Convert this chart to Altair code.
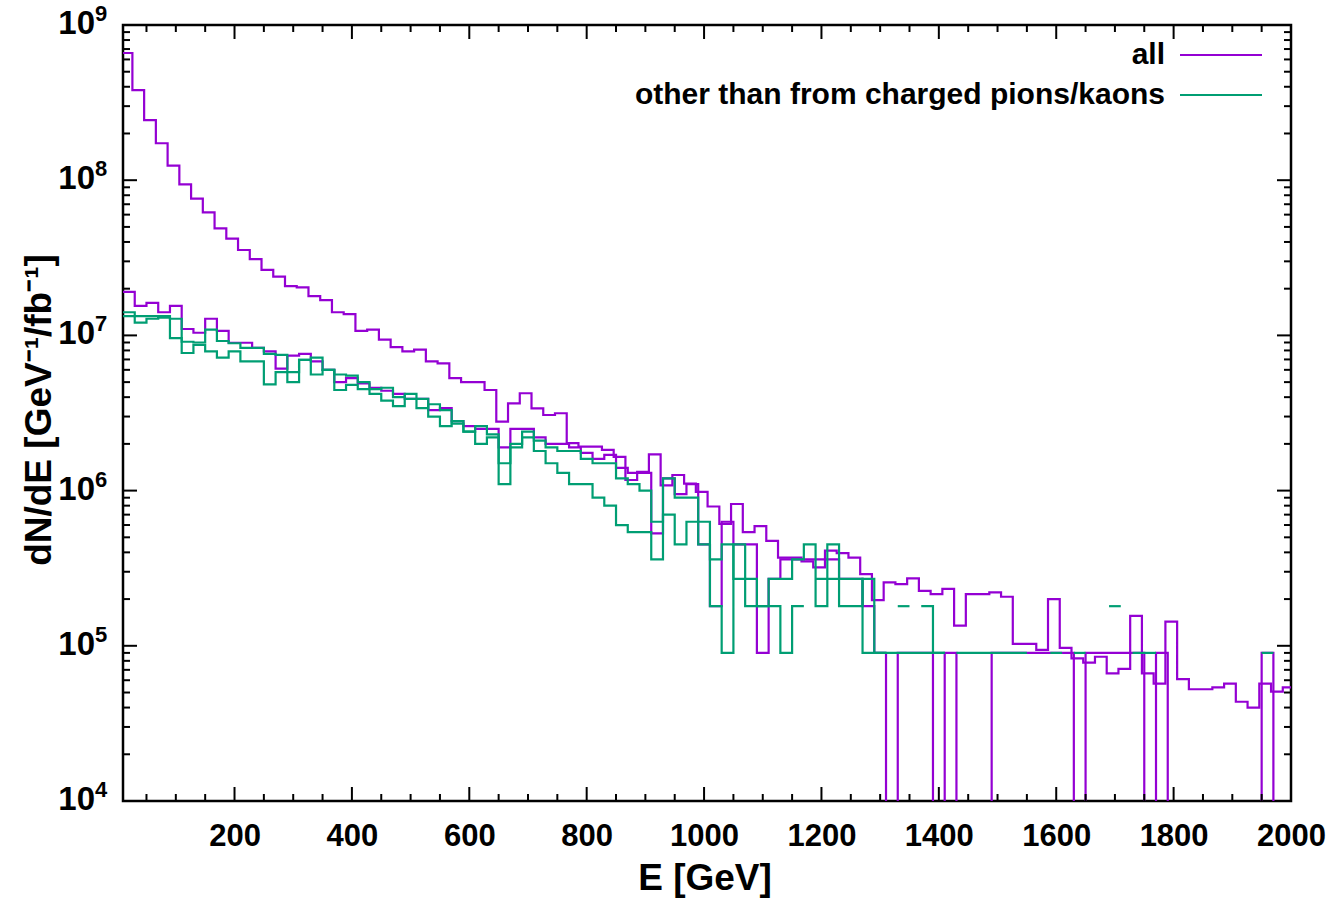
import altair as alt
import pandas as pd

# ---------------- data (dN/dE per 20 GeV bin) ----------------
BIN_WIDTH = 20          # bin width [GeV]
START_ALL = 6           # first bin edge of the high "all" curve [GeV]
START_OTHERS = 10       # first bin edge of the other three curves [GeV]

all_hi = [6.6e8, 3.8e8, 2.44e8, 1.73e8, 1.24e8, 9.4e7, 7.6e7, 6.2e7, 4.9e7, 4.2e7,
          3.55e7, 3.1e7, 2.64e7, 2.39e7, 2.08e7, 2.04e7, 1.79e7, 1.69e7, 1.41e7, 1.37e7,
          1.07e7, 1.09e7, 9.4e6, 8.4e6, 7.9e6, 8.1e6, 6.8e6, 6.6e6, 5.3e6, 5.0e6,
          5.0e6, 4.45e6, 2.78e6, 3.65e6, 4.24e6, 3.39e6, 3.07e6, 3.15e6, 2.02e6, 1.92e6,
          1.92e6, 1.83e6, 1.65e6, 1.17e6, 1.32e6, 1.71e6, 1.08e6, 1.26e6, 1.11e6, 9.8e5,
          7.9e5, 6.1e5, 8.2e5, 5.4e5, 5.9e5, 4.75e5, 3.7e5, 3.7e5, 3.5e5, 3.2e5,
          4.1e5, 3.95e5, 3.7e5, 2.9e5, 1.97e5, 2.56e5, 2.5e5, 2.72e5, 2.26e5, 2.15e5,
          2.33e5, 1.35e5, 2.15e5, 2.15e5, 2.21e5, 2.07e5, 1.03e5, 1.03e5, 9.4e4, 2.0e5,
          9.7e4, 8.3e4, 7.8e4, 8.5e4, 6.65e4, 7.1e4, 1.56e5, 6.65e4, 5.7e4, 1.43e5,
          6.1e4, 5.25e4, 5.25e4, 5.4e4, 5.7e4, 4.36e4, 4.0e4, 5.7e4, 5.06e4, 5.4e4]

all_lo = [1.91e7, 1.55e7, 1.62e7, 1.41e7, 1.55e7, 1.1e7, 1.04e7, 1.28e7, 1.07e7, 8.97e6,
          8.97e6, 8.3e6, 7.9e6, 6.1e6, 7.4e6, 7.6e6, 6.8e6, 6.0e6, 5.0e6, 5.3e6,
          4.9e6, 4.6e6, 4.4e6, 4.2e6, 3.9e6, 3.9e6, 3.3e6, 3.4e6, 2.8e6, 2.6e6,
          2.5e6, 2.5e6, 1.9e6, 2.5e6, 2.5e6, 2.2e6, 2.0e6, 2.0e6, 1.9e6, 1.75e6,
          1.6e6, 1.7e6, 1.4e6, 1.3e6, 1.3e6, 5.3e5, 1.2e6, 9.5e5, 1.1e6, 4.5e5,
          1.8e5, 6.3e5, 4.5e5, 4.5e5, 9e4, 2.7e5, 3.6e5, 3.6e5, 3.6e5, 3.6e5,
          3.6e5, 2.7e5, 2.7e5, 1.8e5, 9e4, 0, 9e4, 9e4, 9e4, 0,
          9e4, 0, 0, 0, 9e4, 9e4, 9e4, 9e4, 9e4, 9e4,
          9e4, 0, 9e4, 9e4, 9e4, 9e4, 9e4, 0, 9e4, 0,
          0, 0, 0, 0, 0, 0, 0, 9e4, 0, 0]

other_a = [1.41e7, 1.33e7, 1.33e7, 1.3e7, 1.28e7, 9.1e6, 9.0e6, 1.09e7, 9.2e6, 8.9e6,
           8.3e6, 8.3e6, 7.6e6, 7.5e6, 5.8e6, 6.95e6, 7.2e6, 6.0e6, 5.6e6, 5.5e6,
           5.0e6, 4.5e6, 4.6e6, 4.0e6, 4.2e6, 3.4e6, 3.6e6, 3.3e6, 2.7e6, 2.4e6,
           2.6e6, 2.3e6, 1.1e6, 2.0e6, 2.4e6, 2.1e6, 1.9e6, 1.8e6, 1.8e6, 1.6e6,
           1.5e6, 1.5e6, 1.2e6, 1.1e6, 1.0e6, 6.3e5, 1.2e6, 9.0e5, 9.0e5, 6.3e5,
           3.6e5, 4.5e5, 2.7e5, 1.8e5, 1.8e5, 2.7e5, 2.7e5, 3.6e5, 4.5e5, 1.8e5,
           4.5e5, 1.8e5, 1.8e5, 2.7e5, 9e4, 9e4, 9e4, 9e4, 9e4, 9e4,
           0, 9e4, 9e4, 9e4, 9e4, 9e4, 9e4, 0, 0, 9e4,
           0, 9e4, 0, 0, 1.8e5, 0, 9e4, 9e4, 0, 0,
           0, 0, 0, 0, 0, 0, 0, 9e4, 0, 0]

other_b = [1.33e7, 1.21e7, 1.28e7, 1.33e7, 9.6e6, 7.7e6, 8.7e6, 7.9e6, 7.2e6, 7.9e6,
           6.8e6, 6.8e6, 4.84e6, 5.8e6, 5.0e6, 6.95e6, 5.6e6, 6.0e6, 4.45e6, 4.8e6,
           4.5e6, 4.2e6, 3.8e6, 3.5e6, 3.9e6, 3.9e6, 3.0e6, 2.6e6, 2.8e6, 2.4e6,
           2.0e6, 2.2e6, 1.5e6, 1.9e6, 2.2e6, 1.8e6, 1.5e6, 1.3e6, 1.1e6, 1.1e6,
           9e5, 8e5, 6e5, 5.4e5, 5.4e5, 3.6e5, 7e5, 4.5e5, 6.3e5, 4.5e5,
           1.8e5, 9e4, 4.5e5, 2.7e5, 1.8e5, 1.8e5, 9e4, 1.8e5, 0, 2.7e5,
           2.7e5, 2.7e5, 2.7e5, 9e4, 9e4, 0, 1.8e5, 0, 1.8e5, 9e4,
           0, 0, 0, 0, 0, 0, 0, 0, 0, 0,
           0, 0, 0, 0, 0, 0, 0, 0, 0, 0,
           0, 0, 0, 0, 0, 0, 0, 0, 0, 0]

series_names = ["all", "all (2)", "other", "other (2)"]
series_values = [all_hi, all_lo, other_a, other_b]
series_group = ["all", "all", "other", "other"]
series_start = [START_ALL, START_OTHERS, START_OTHERS, START_OTHERS]

legend_labels = ["all", "other than from charged pions/kaons"]
colors = ["#9400D3", "#009E73"]

x_major = list(range(200, 2001, 200))
x_minor = [v for v in range(50, 2000, 50) if v % 200 != 0]
y_major = [1e4, 1e5, 1e6, 1e7, 1e8, 1e9]
y_minor = [m * d for d in [1e4, 1e5, 1e6, 1e7, 1e8] for m in range(2, 10)]
y_exponents = ["4", "5", "6", "7", "8", "9"]

# ---------------- build step paths ----------------
FLOOR = 1e2  # empty bins of the "all" curves drop off the bottom of the log axis
rows = []
for name, vals, grp, start in zip(series_names, series_values, series_group, series_start):
    seg = 0
    k = 0
    for i, v in enumerate(vals):
        lo = start + BIN_WIDTH * i
        hi = lo + BIN_WIDTH
        if v <= 0:
            if grp == "all":
                v = FLOOR
            else:
                seg += 1
                continue
        for e in (lo, hi):
            rows.append({"E": e, "N": v, "grp": grp, "seg": f"{name}-{seg}", "k": k})
            k += 1
df = pd.DataFrame(rows)

W, H = 1168, 776
FONT = "Liberation Sans, Arial, sans-serif"

xscale = alt.Scale(domain=[10, 2000], nice=False, zero=False)
yscale = alt.Scale(type="log", domain=[1e4, 1e9], nice=False)

lines = alt.Chart(df).mark_line(strokeWidth=2.2, clip=True).encode(
    x=alt.X("E:Q", scale=xscale,
            axis=alt.Axis(values=x_major, format="d", ticks=False, domain=False, grid=False,
                          labelFont=FONT, labelFontSize=31, labelFontWeight="bold",
                          labelColor="black", labelPadding=20, labelFlush=False,
                          title=None)),
    y=alt.Y("N:Q", scale=yscale, axis=None),
    color=alt.Color("grp:N", scale=alt.Scale(domain=["all", "other"], range=colors), legend=None),
    detail="seg:N",
    order="k:Q",
)

# ticks (inside, mirrored)
xt = pd.DataFrame({"E": x_major + x_minor, "s": [28] * len(x_major) + [14] * len(x_minor)})
yt = pd.DataFrame({"N": y_major + y_minor, "s": [28] * len(y_major) + [14] * len(y_minor)})

def xticks(ypos):
    return alt.Chart(xt).mark_tick(orient="vertical", thickness=2, color="black",
                                   opacity=1, clip=True).encode(
        x=alt.X("E:Q", scale=xscale), y=alt.value(ypos), size=alt.Size("s:Q", scale=None))

def yticks(xpos):
    return alt.Chart(yt).mark_tick(orient="horizontal", thickness=2, color="black",
                                   opacity=1, clip=True).encode(
        y=alt.Y("N:Q", scale=yscale), x=alt.value(xpos), size=alt.Size("s:Q", scale=None))

dec = pd.DataFrame({"N": y_major, "base": ["10"] * len(y_major), "exp": y_exponents})
ylab_base = alt.Chart(dec).mark_text(align="right", baseline="middle", font=FONT, fontSize=33,
                                     fontWeight="bold", color="black", dy=-1).encode(
    y=alt.Y("N:Q", scale=yscale), x=alt.value(-28), text="base:N")
ylab_exp = alt.Chart(dec).mark_text(align="left", baseline="middle", font=FONT, fontSize=22,
                                    fontWeight="bold", color="black", dy=-11).encode(
    y=alt.Y("N:Q", scale=yscale), x=alt.value(-28), text="exp:N")

ytitle = alt.Chart(pd.DataFrame({"t": ["dN/dE [GeV\u207b\u00b9/fb\u207b\u00b9]"]})).mark_text(
    angle=270, align="center", baseline="middle", font=FONT, fontSize=37, fontWeight="bold",
    color="black").encode(x=alt.value(-83), y=alt.value(385), text="t:N")
xtitle = alt.Chart(pd.DataFrame({"t": ["E [GeV]"]})).mark_text(
    align="center", baseline="middle", font=FONT, fontSize=37, fontWeight="bold",
    color="black").encode(x=alt.value(582), y=alt.value(854), text="t:N")

leg = []
for i, (lab, col) in enumerate(zip(legend_labels, colors)):
    ypos = 30 + 40 * i
    leg.append(alt.Chart(pd.DataFrame({"t": [lab]})).mark_text(
        align="right", baseline="middle", font=FONT, fontSize=30, fontWeight="bold",
        color="black").encode(x=alt.value(1042), y=alt.value(ypos), text="t:N"))
    leg.append(alt.Chart(pd.DataFrame({"t": [lab]})).mark_rule(color=col, strokeWidth=2.2).encode(
        x=alt.value(1057), x2=alt.value(1139), y=alt.value(ypos)))

chart = alt.layer(
    lines, xticks(H), xticks(0), yticks(0), yticks(W),
    ylab_base, ylab_exp, ytitle, xtitle, *leg
).properties(
    width=W, height=H,
    padding={"left": 123, "top": 25, "right": 48, "bottom": 97},
    autosize=alt.AutoSizeParams(type="none"),
    background="white",
).configure_view(stroke="black", strokeWidth=2.5)

chart.save("out.html", embed_options={"renderer": "svg", "actions": False})
